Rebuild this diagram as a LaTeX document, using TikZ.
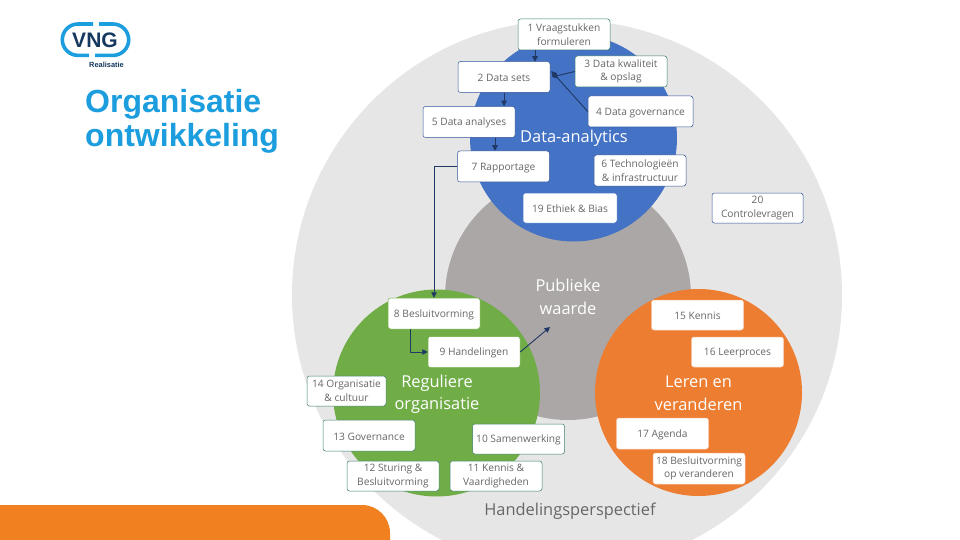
\documentclass[tikz,border=0pt]{standalone}
\usepackage{fontspec}
\setmainfont{Open Sans}
\newfontfamily\arialf{Liberation Sans}
\usetikzlibrary{arrows.meta}
\definecolor{bggrey}{HTML}{E7E6E6}
\definecolor{midgrey}{HTML}{ABA7A6}
\definecolor{cblue}{HTML}{4472C4}
\definecolor{cgreen}{HTML}{70AD47}
\definecolor{corange}{HTML}{ED7D31}
\definecolor{barorange}{HTML}{F08020}
\definecolor{txtgrey}{HTML}{666767}
\definecolor{arrownavy}{HTML}{1F3864}
\definecolor{edgeblue}{HTML}{2F5597}
\definecolor{edgeteal}{HTML}{3F7F6C}
\definecolor{titleblue}{HTML}{1B9DDE}
\definecolor{logonavy}{HTML}{16395F}
\tikzset{
  x=1pt,y=-1pt,
  bx/.style={draw,fill=white,rounded corners=2.5pt,line width=0.5pt,inner sep=0pt,
    minimum width=92pt,minimum height=31pt,text=txtgrey,align=center,
    font=\fontsize{10.2}{13.5}\selectfont,
    execute at begin node={\rule{0pt}{9.7pt}}},
  onblue/.style={bx,draw=edgeblue},
  onteal/.style={bx,draw=edgeteal},
  ongreen/.style={bx,draw=cgreen},
  onorange/.style={bx,draw=corange!40!white},
  big/.style={text=white,align=center,font=\fontsize{16.4}{22.5}\selectfont,inner sep=0pt},
  conn/.style={draw=arrownavy,line width=0.9pt,-{Triangle[length=5.5pt,width=5.5pt]}},
  ringpart/.style={draw=titleblue,line width=3.6pt},
}
\begin{document}
\begin{tikzpicture}
\clip (0,0) rectangle (960,540);
\fill[white] (0,0) rectangle (960,540);
% circles
\fill[bggrey] (567,295) circle[radius=275];
\fill[midgrey] (568,297) circle[radius=123];
\fill[cblue] (573.5,138) circle[radius=103.5];
\fill[cgreen] (436.5,393) circle[radius=103.5];
\fill[corange] (698.5,392.5) circle[radius=103.5];
% bottom bar
\fill[barorange] (0,505) -- (362,505) arc[start angle=-90,end angle=0,radius=28] -- (390,540) -- (0,540) -- cycle;
% logo
\draw[ringpart] (93,24) -- (78,24) arc[start angle=-90,end angle=-270,radius=15.7] -- (89,55.4);
\draw[ringpart] (99,24) -- (113,24) arc[start angle=-90,end angle=90,radius=15.7] -- (95,55.4);
\node[inner sep=0pt,text=logonavy,font=\arialf\bfseries\fontsize{21}{21}\selectfont] (vng) at (95,40) {VNG};
\node[inner sep=0pt,text=logonavy,font=\arialf\bfseries\fontsize{7.4}{8}\selectfont] (real) at (106.5,65) {Realisatie};
% title
\node[anchor=base west,inner sep=0pt,text=titleblue,font=\arialf\bfseries\fontsize{32}{34}\selectfont] (t1) at (85,113) {Organisatie};
\node[anchor=base west,inner sep=0pt,text=titleblue,font=\arialf\bfseries\fontsize{32}{34}\selectfont] (t2) at (85,147) {ontwikkeling};
% big labels
\node[big] (lda) at (574,138) {Data-analytics};
\node[big] (lpw) at (568,297) {Publieke\\waarde};
\node[big] (lro) at (437,394) {Reguliere\\organisatie};
\node[big] (llv) at (698.5,393) {Leren en\\veranderen};
\node[inner sep=0pt,text=txtgrey,font=\fontsize{16.4}{20}\selectfont] (lhp) at (570,511.5) {Handelingsperspectief};
% boxes
\node[onteal] (n1) at (564,34.5) {1 Vraagstukken\\formuleren};
\node[onblue] (n2) at (504,77) {2 Data sets};
\node[onteal] (n3) at (621,71.5) {3 Data kwaliteit\\\& opslag};
\node[onblue,minimum width=105pt] (n4) at (640.5,111.5) {4 Data governance};
\node[onblue] (n5) at (469,122) {5 Data analyses};
\node[onblue] (n7) at (503.5,166.5) {7 Rapportage};
\node[onblue] (n6) at (640,170.5) {6 Technologieën\\\& infrastructuur};
\node[bx,draw=cblue,minimum width=94pt,minimum height=30pt] (n19) at (570,208) {19 Ethiek \& Bias};
\node[onblue,minimum width=91pt,minimum height=30pt] (n20) at (757.5,208) {20\\Controlevragen};
\node[ongreen] (n8) at (434,313.5) {8 Besluitvorming};
\node[ongreen] (n9) at (474,352) {9 Handelingen};
\node[onteal,minimum width=79pt,minimum height=30pt] (n14) at (346.5,391) {14 Organisatie\\\& cultuur};
\node[onteal] (n13) at (369,435.5) {13 Governance};
\node[onteal,minimum height=30pt] (n10) at (518.5,439) {10 Samenwerking};
\node[onteal,minimum height=30pt] (n12) at (393,476) {12 Sturing \&\\Besluitvorming};
\node[onteal,minimum height=30pt] (n11) at (496,476) {11 Kennis \&\\Vaardigheden};
\node[onorange,minimum height=30pt] (n15) at (697.5,315) {15 Kennis};
\node[onorange,minimum height=30pt] (n16) at (737.5,352) {16 Leerproces};
\node[onorange] (n17) at (662.5,433.5) {17 Agenda};
\node[onorange] (n18) at (699,468.5) {18 Besluitvorming\\op veranderen};
% connectors
\coordinate (free) at (550,327);
\draw[conn] ([xshift=-29pt]n1.south) -- ([xshift=31pt,yshift=-0.5pt]n2.north);
\draw[conn] (n3.west) -- ([xshift=1.5pt]n2.east);
\draw[conn] (n4.west) -- ([xshift=1pt,yshift=6pt]n2.east);
\draw[conn] (n2.south) -- ([xshift=35pt]n5.north);
\draw[conn] ([xshift=26pt]n5.south) -- ([xshift=-8.5pt]n7.north);
\draw[conn] (n7.west) -| (n8.north);
\draw[conn] ([xshift=-24pt]n8.south) |- (n9.west);
\draw[conn] (n9.east) -- (free);
\end{tikzpicture}
\end{document}
